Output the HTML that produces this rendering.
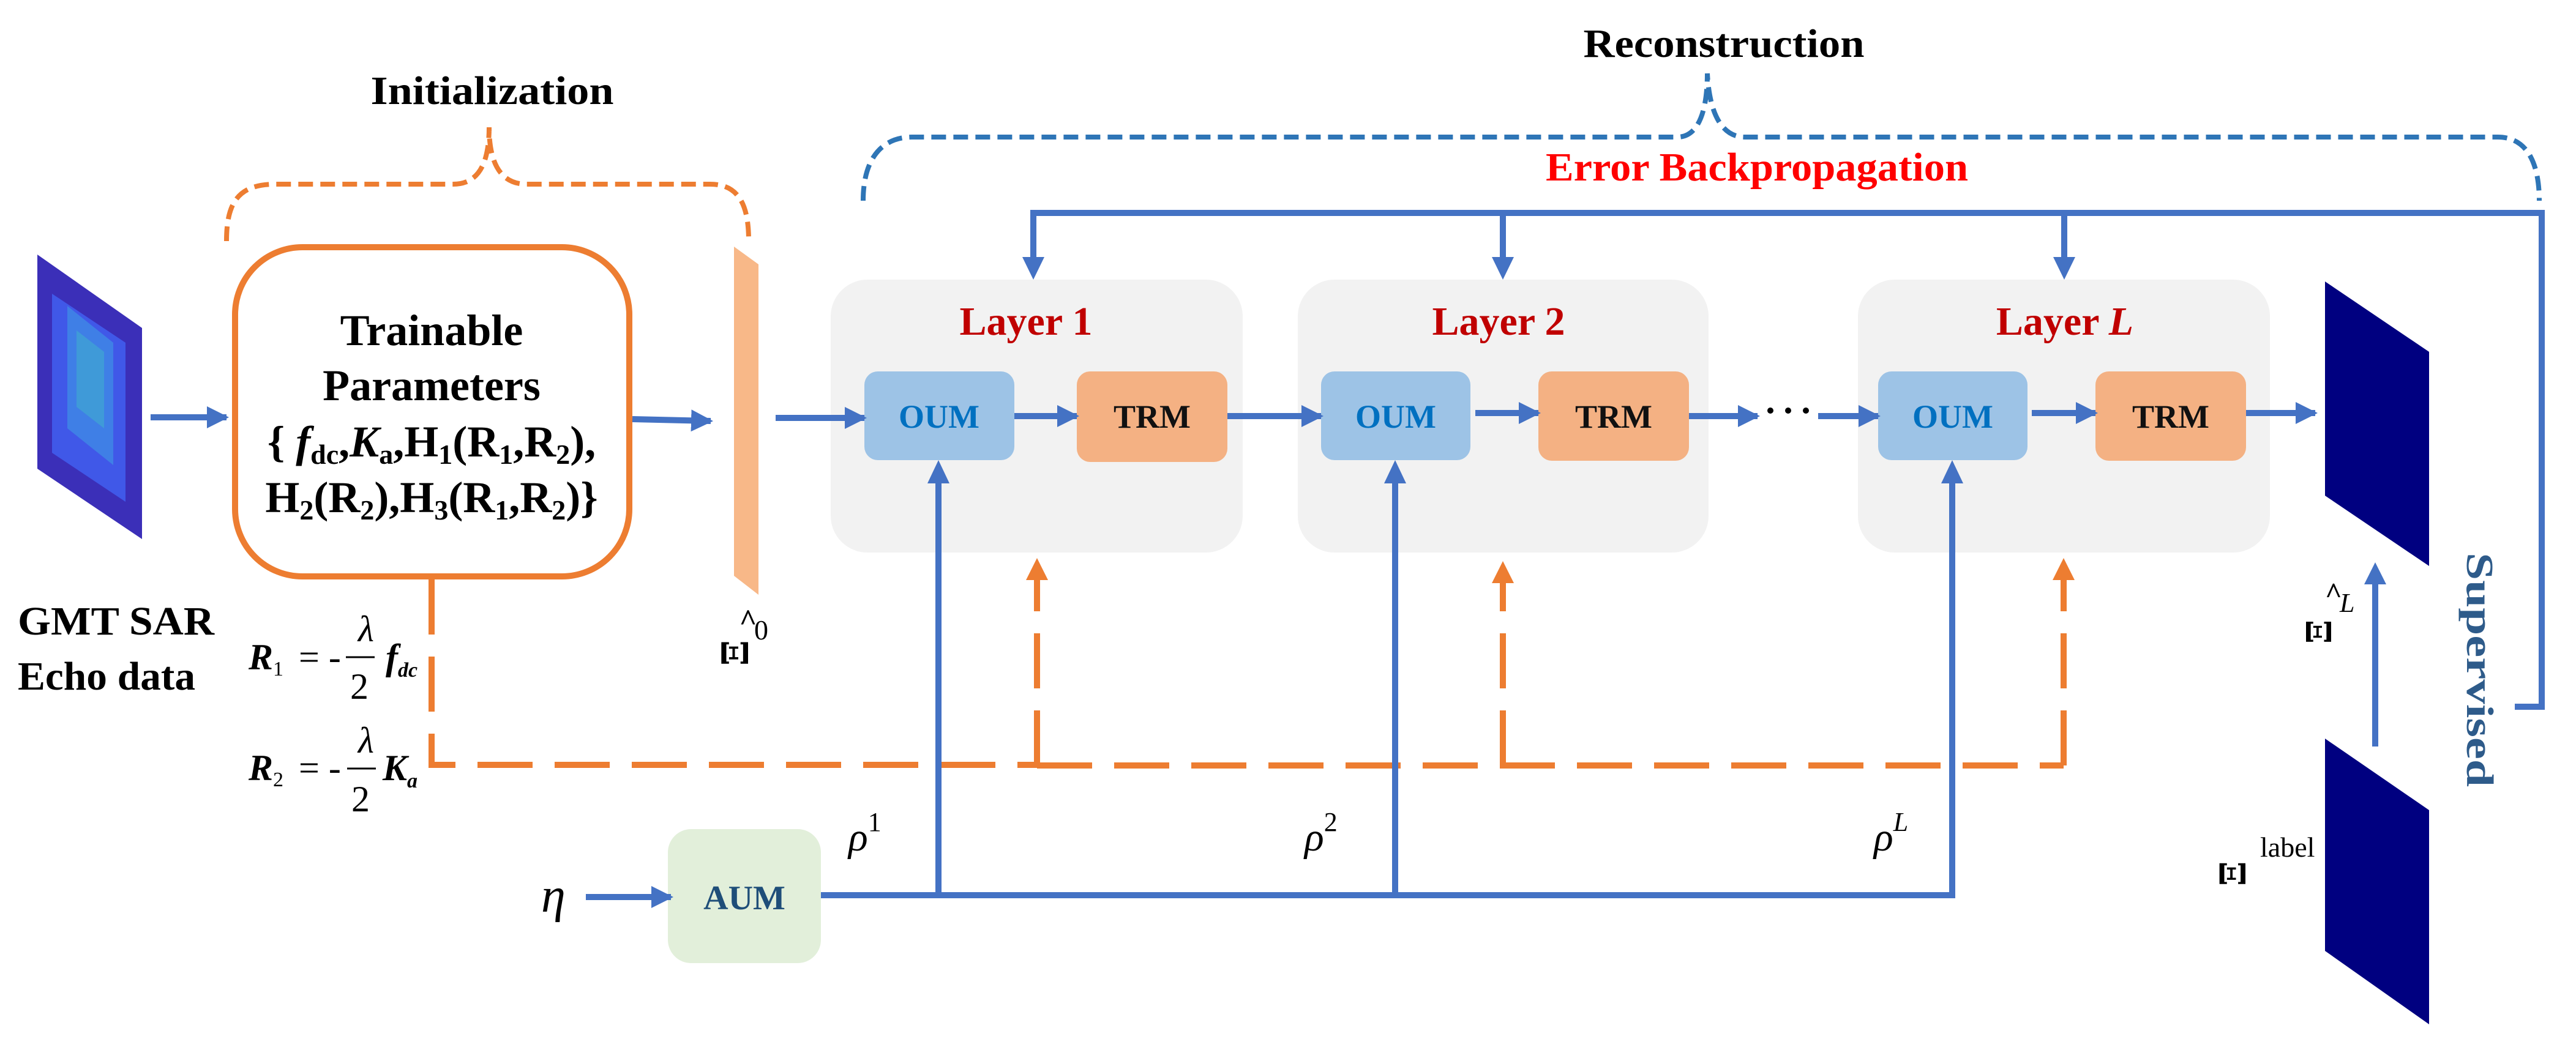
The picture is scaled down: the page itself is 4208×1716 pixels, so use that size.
<!DOCTYPE html>
<html><head><meta charset="utf-8"><style>
html,body{margin:0;padding:0;background:#fff;}
svg{display:block;}
text{font-family:"Liberation Serif",serif;}
.dj{font-family:"DejaVu Serif",serif;}
</style></head><body>
<svg width="4208" height="1716" viewBox="0 0 4208 1716" xmlns="http://www.w3.org/2000/svg">
<defs>
<marker id="ab" markerWidth="4" markerHeight="4" refX="3.2" refY="2" orient="auto" markerUnits="strokeWidth"><path d="M0,0.2 L3.6,2 L0,3.8 z" fill="#4472c4"/></marker>
</defs>

<!-- titles -->
<text x="804" y="170" font-size="66" font-weight="bold" text-anchor="middle" textLength="397" lengthAdjust="spacingAndGlyphs">Initialization</text>
<text x="2816" y="93" font-size="66" font-weight="bold" text-anchor="middle" textLength="459" lengthAdjust="spacingAndGlyphs">Reconstruction</text>
<text x="2870" y="295" font-size="66" font-weight="bold" fill="#ff0000" text-anchor="middle" textLength="690" lengthAdjust="spacingAndGlyphs">Error Backpropagation</text>

<!-- braces -->
<path d="M370,394 C370,330 390,301 450,301 L740,301 C780,301 799,270 799,208 C799,270 820,301 860,301 L1160,301 C1210,301 1223,340 1223,394" fill="none" stroke="#ed7d31" stroke-width="8" stroke-dasharray="24 12"/>
<path d="M1410,328 C1410,260 1440,224 1490,224 L2740,224 C2775,224 2789,180 2789,120 C2792,180 2810,224 2850,224 L4080,224 C4130,224 4148,270 4148,328" fill="none" stroke="#2e75b6" stroke-width="8" stroke-dasharray="24 12"/>

<!-- SAR echo image -->
<polygon points="61,416 232,536 232,881 61,766" fill="#3b2fb8"/>
<polygon points="85,480 205,560 205,820 85,740" fill="#4058e8"/>
<polygon points="110,500 185,560 185,760 110,700" fill="#3f7fe6"/>
<polygon points="125,540 170,575 170,700 125,665" fill="#3f9ad8"/>
<line x1="246" y1="682" x2="370" y2="682" stroke="#4472c4" stroke-width="10" marker-end="url(#ab)"/>
<text x="29" y="1037" font-size="66" font-weight="bold" textLength="321" lengthAdjust="spacingAndGlyphs">GMT SAR</text>
<text x="29" y="1127" font-size="66" font-weight="bold" textLength="290" lengthAdjust="spacingAndGlyphs">Echo data</text>

<!-- trainable box -->
<rect x="384" y="404" width="644" height="538" rx="110" fill="#fff" stroke="#ed7d31" stroke-width="10"/>
<g font-size="72" font-weight="bold" text-anchor="middle">
<text x="705" y="564">Trainable</text>
<text x="705" y="654">Parameters</text>
<text x="705" y="746">{ <tspan font-style="italic">f</tspan><tspan font-size="46" dy="12">dc</tspan><tspan dy="-12">,</tspan><tspan font-style="italic">K</tspan><tspan font-size="46" dy="12">a</tspan><tspan dy="-12">,H</tspan><tspan font-size="46" dy="12">1</tspan><tspan dy="-12">(R</tspan><tspan font-size="46" dy="12">1</tspan><tspan dy="-12">,R</tspan><tspan font-size="46" dy="12">2</tspan><tspan dy="-12">),</tspan></text>
<text x="705" y="837">H<tspan font-size="46" dy="12">2</tspan><tspan dy="-12">(R</tspan><tspan font-size="46" dy="12">2</tspan><tspan dy="-12">),H</tspan><tspan font-size="46" dy="12">3</tspan><tspan dy="-12">(R</tspan><tspan font-size="46" dy="12">1</tspan><tspan dy="-12">,R</tspan><tspan font-size="46" dy="12">2</tspan><tspan dy="-12">)}</tspan></text>
</g>
<line x1="1033" y1="685" x2="1161" y2="688" stroke="#4472c4" stroke-width="10" marker-end="url(#ab)"/>

<!-- equations -->
<g font-size="60">
<text x="406" y="1094" font-style="italic" font-weight="bold">R<tspan font-size="34" font-style="normal" font-weight="normal" dy="10">1</tspan></text>
<text x="488" y="1094">= -</text>
<text x="585" y="1048" font-style="italic">λ</text>
<line x1="565" y1="1074" x2="612" y2="1074" stroke="#000" stroke-width="3"/>
<text x="572" y="1142">2</text>
<text x="630" y="1094" font-style="italic" font-weight="bold">f<tspan font-size="34" dy="12">dc</tspan></text>
<text x="406" y="1275" font-style="italic" font-weight="bold">R<tspan font-size="34" font-style="normal" font-weight="normal" dy="10">2</tspan></text>
<text x="488" y="1275">= -</text>
<text x="585" y="1230" font-style="italic">λ</text>
<line x1="567" y1="1256" x2="614" y2="1256" stroke="#000" stroke-width="3"/>
<text x="574" y="1326">2</text>
<text x="625" y="1275" font-style="italic" font-weight="bold">K<tspan font-size="34" dy="12">a</tspan></text>
</g>

<!-- orange slab -->
<polygon points="1199,403 1239,432 1239,972 1199,941" fill="#f8b888"/>
<g transform="translate(1222,1088) rotate(-90)"><text class="dj" x="0" y="0" font-size="60" font-weight="bold">Ξ</text></g>
<text x="1222" y="1030" font-size="50" font-weight="bold" text-anchor="middle">^</text>
<text x="1232" y="1045" font-size="46">0</text>

<!-- orange dashed -->
<path d="M705,947 L705,1250 L1694,1250" fill="none" stroke="#ed7d31" stroke-width="10" stroke-dasharray="90 36"/>
<path d="M1694,1251 L3371,1251" fill="none" stroke="#ed7d31" stroke-width="10" stroke-dasharray="90 36"/>
<path d="M1694,1251 L1694,945" fill="none" stroke="#ed7d31" stroke-width="10" stroke-dasharray="90 36" />
<polygon points="1694,912 1676,948 1712,948" fill="#ed7d31"/>
<path d="M2455,1251 L2455,950" fill="none" stroke="#ed7d31" stroke-width="10" stroke-dasharray="90 36"/>
<polygon points="2455,917 2437,953 2473,953" fill="#ed7d31"/>
<path d="M3371,1251 L3371,945" fill="none" stroke="#ed7d31" stroke-width="10" stroke-dasharray="90 36"/>
<polygon points="3371,912 3353,948 3389,948" fill="#ed7d31"/>

<!-- feedback line -->
<path d="M4108,1155 L4152,1155 L4152,348 L1688,348 L1688,420" fill="none" stroke="#4472c4" stroke-width="10"/>
<polygon points="1688,457 1670,420 1706,420" fill="#4472c4"/>
<line x1="2455" y1="348" x2="2455" y2="420" stroke="#4472c4" stroke-width="10"/>
<polygon points="2455,457 2437,420 2473,420" fill="#4472c4"/>
<line x1="3372" y1="348" x2="3372" y2="420" stroke="#4472c4" stroke-width="10"/>
<polygon points="3372,457 3354,420 3390,420" fill="#4472c4"/>

<!-- layer panels -->
<rect x="1357" y="457" width="673" height="446" rx="60" fill="#f2f2f2"/>
<rect x="2120" y="457" width="671" height="446" rx="60" fill="#f2f2f2"/>
<rect x="3035" y="457" width="673" height="446" rx="60" fill="#f2f2f2"/>
<g font-size="66" font-weight="bold" fill="#c00000" text-anchor="middle">
<text x="1676" y="547">Layer 1</text>
<text x="2448" y="547">Layer 2</text>
<text x="3373" y="547">Layer <tspan font-style="italic">L</tspan></text>
</g>
<g>
<rect x="1412" y="607" width="245" height="145" rx="22" fill="#9dc3e6"/>
<rect x="1759" y="607" width="246" height="148" rx="22" fill="#f4b183"/>
<rect x="2158" y="607" width="244" height="145" rx="22" fill="#9dc3e6"/>
<rect x="2513" y="607" width="246" height="146" rx="22" fill="#f4b183"/>
<rect x="3068" y="607" width="244" height="145" rx="22" fill="#9dc3e6"/>
<rect x="3423" y="607" width="246" height="146" rx="22" fill="#f4b183"/>
</g>
<g font-size="54" font-weight="bold" text-anchor="middle">
<text x="1534" y="699" fill="#0070c0">OUM</text>
<text x="1882" y="699" fill="#111">TRM</text>
<text x="2280" y="699" fill="#0070c0">OUM</text>
<text x="2636" y="699" fill="#111">TRM</text>
<text x="3190" y="699" fill="#0070c0">OUM</text>
<text x="3546" y="699" fill="#111">TRM</text>
</g>
<g stroke="#4472c4" stroke-width="10" marker-end="url(#ab)">
<line x1="1267" y1="683" x2="1412" y2="683"/>
<line x1="1657" y1="680" x2="1759" y2="680"/>
<line x1="2005" y1="680" x2="2158" y2="680"/>
<line x1="2410" y1="675" x2="2513" y2="675"/>
<line x1="2759" y1="680" x2="2871" y2="680"/>
<line x1="2970" y1="680" x2="3068" y2="680"/>
<line x1="3319" y1="675" x2="3423" y2="675"/>
<line x1="3669" y1="675" x2="3782" y2="675"/>
</g>
<g fill="#000"><circle cx="2892" cy="671" r="5"/><circle cx="2921" cy="671" r="5"/><circle cx="2950" cy="671" r="5"/></g>

<!-- AUM and rho lines -->
<rect x="1091" y="1355" width="250" height="219" rx="38" fill="#e2efda"/>
<text x="1216" y="1486" font-size="56" font-weight="bold" fill="#1f4e79" text-anchor="middle">AUM</text>
<text x="884" y="1490" font-size="80" font-style="italic">η</text>
<line x1="957" y1="1466" x2="1096" y2="1466" stroke="#4472c4" stroke-width="10" marker-end="url(#ab)"/>
<path d="M1341,1463 L3189,1463 L3189,790" fill="none" stroke="#4472c4" stroke-width="10"/>
<line x1="1533" y1="1463" x2="1533" y2="790" stroke="#4472c4" stroke-width="10"/>
<line x1="2279" y1="1463" x2="2279" y2="790" stroke="#4472c4" stroke-width="10"/>
<polygon points="1533,752 1515,790 1551,790" fill="#4472c4"/>
<polygon points="2279,752 2261,790 2297,790" fill="#4472c4"/>
<polygon points="3189,752 3171,790 3207,790" fill="#4472c4"/>
<g font-size="66" font-style="italic">
<text x="1386" y="1390">ρ<tspan font-size="44" font-style="normal" dy="-32">1</tspan></text>
<text x="2131" y="1390">ρ<tspan font-size="44" font-style="normal" dy="-32">2</tspan></text>
<text x="3061" y="1390">ρ<tspan font-size="44" dy="-32">L</tspan></text>
</g>

<!-- output images -->
<polygon points="3798,460 3968,575 3968,925 3798,810" fill="#000080"/>
<polygon points="3798,1207 3968,1324 3968,1674 3798,1554" fill="#000080"/>
<line x1="3880" y1="1220" x2="3880" y2="950" stroke="#4472c4" stroke-width="10"/>
<polygon points="3880,919 3862,955 3898,955" fill="#4472c4"/>
<g transform="translate(3808,1052) rotate(-90)"><text class="dj" x="0" y="0" font-size="56" font-weight="bold">Ξ</text></g>
<text x="3812" y="985" font-size="48" font-weight="bold" text-anchor="middle">^</text>
<text x="3822" y="1000" font-size="44" font-style="italic">L</text>
<g transform="translate(3668,1448) rotate(-90)"><text class="dj" x="0" y="0" font-size="58" font-weight="bold">Ξ</text></g>
<text x="3692" y="1400" font-size="46">label</text>
<text x="0" y="0" font-size="62" font-weight="bold" fill="#2e5b8a" transform="translate(4030,903) rotate(90)" textLength="383" lengthAdjust="spacingAndGlyphs">Supervised</text>
</svg>
</body></html>
